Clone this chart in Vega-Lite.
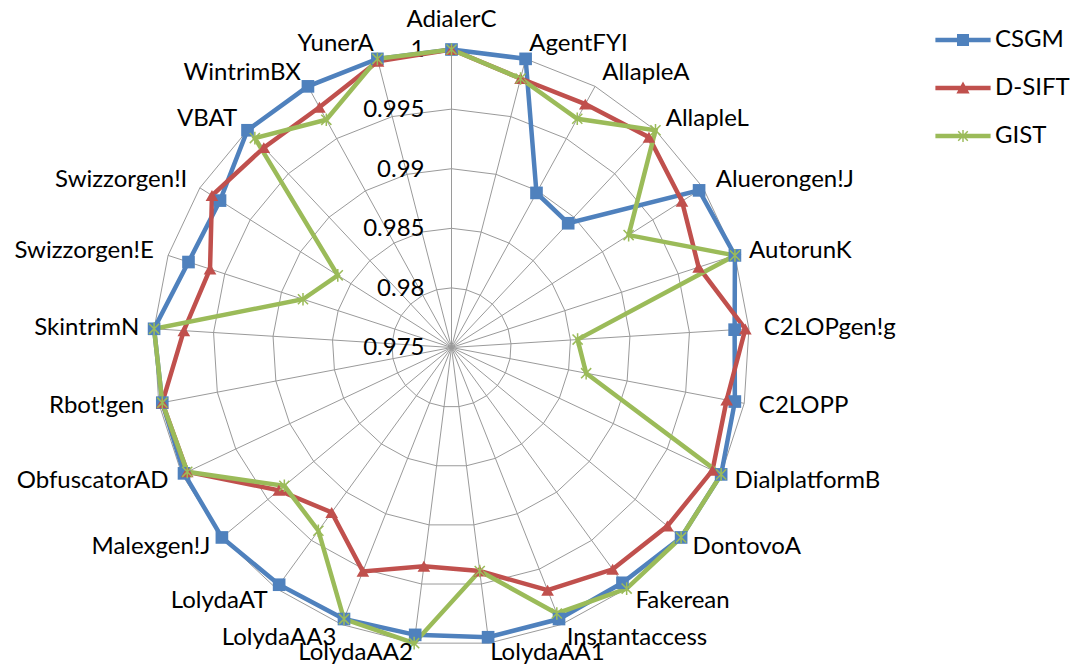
{
  "$schema": "https://vega.github.io/schema/vega-lite/v6.json",
  "width": 1070,
  "height": 668,
  "autosize": "none",
  "padding": 0,
  "background": "#ffffff",
  "config": {
    "view": {"stroke": null},
    "font": "Lato",
    "legend": {
      "orient": "none", "legendX": 951, "legendY": 28, "title": null, "padding": 0,
      "labelFont": "Lato", "labelFontSize": 24, "labelColor": "#000000",
      "symbolSize": 144, "symbolStrokeWidth": 0, "symbolOpacity": 1,
      "labelOffset": 20, "rowPadding": 24
    }
  },
  "datasets": {
    "d": [
      {"c": "AdialerC", "s": "CSGM", "v": 1.0}, {"c": "AdialerC", "s": "D-SIFT", "v": 1.0}, {"c": "AdialerC", "s": "GIST", "v": 1.0},
      {"c": "AgentFYI", "s": "CSGM", "v": 1.0}, {"c": "AgentFYI", "s": "D-SIFT", "v": 0.9983}, {"c": "AgentFYI", "s": "GIST", "v": 0.9983},
      {"c": "AllapleA", "s": "CSGM", "v": 0.9898}, {"c": "AllapleA", "s": "D-SIFT", "v": 0.9983}, {"c": "AllapleA", "s": "GIST", "v": 0.9969},
      {"c": "AllapleL", "s": "CSGM", "v": 0.9893}, {"c": "AllapleL", "s": "D-SIFT", "v": 0.9992}, {"c": "AllapleL", "s": "GIST", "v": 1.0},
      {"c": "Aluerongen!J", "s": "CSGM", "v": 0.9996}, {"c": "Aluerongen!J", "s": "D-SIFT", "v": 0.9979}, {"c": "Aluerongen!J", "s": "GIST", "v": 0.9926},
      {"c": "AutorunK", "s": "CSGM", "v": 1.0}, {"c": "AutorunK", "s": "D-SIFT", "v": 0.9968}, {"c": "AutorunK", "s": "GIST", "v": 1.0},
      {"c": "C2LOPgen!g", "s": "CSGM", "v": 0.9988}, {"c": "C2LOPgen!g", "s": "D-SIFT", "v": 0.9997}, {"c": "C2LOPgen!g", "s": "GIST", "v": 0.9856},
      {"c": "C2LOPP", "s": "CSGM", "v": 0.9992}, {"c": "C2LOPP", "s": "D-SIFT", "v": 0.9985}, {"c": "C2LOPP", "s": "GIST", "v": 0.9865},
      {"c": "DialplatformB", "s": "CSGM", "v": 1.0}, {"c": "DialplatformB", "s": "D-SIFT", "v": 0.9992}, {"c": "DialplatformB", "s": "GIST", "v": 1.0},
      {"c": "DontovoA", "s": "CSGM", "v": 1.0}, {"c": "DontovoA", "s": "D-SIFT", "v": 0.9985}, {"c": "DontovoA", "s": "GIST", "v": 1.0},
      {"c": "Fakerean", "s": "CSGM", "v": 0.9994}, {"c": "Fakerean", "s": "D-SIFT", "v": 0.998}, {"c": "Fakerean", "s": "GIST", "v": 1.0},
      {"c": "Instantaccess", "s": "CSGM", "v": 0.9995}, {"c": "Instantaccess", "s": "D-SIFT", "v": 0.9969}, {"c": "Instantaccess", "s": "GIST", "v": 0.999},
      {"c": "LolydaAA1", "s": "CSGM", "v": 0.9995}, {"c": "LolydaAA1", "s": "D-SIFT", "v": 0.9939}, {"c": "LolydaAA1", "s": "GIST", "v": 0.9939},
      {"c": "LolydaAA2", "s": "CSGM", "v": 0.9993}, {"c": "LolydaAA2", "s": "D-SIFT", "v": 0.9935}, {"c": "LolydaAA2", "s": "GIST", "v": 1.0},
      {"c": "LolydaAA3", "s": "CSGM", "v": 0.9995}, {"c": "LolydaAA3", "s": "D-SIFT", "v": 0.9952}, {"c": "LolydaAA3", "s": "GIST", "v": 0.9995},
      {"c": "LolydaAT", "s": "CSGM", "v": 0.9996}, {"c": "LolydaAT", "s": "D-SIFT", "v": 0.9921}, {"c": "LolydaAT", "s": "GIST", "v": 0.994},
      {"c": "Malexgen!J", "s": "CSGM", "v": 1.0}, {"c": "Malexgen!J", "s": "D-SIFT", "v": 0.9938}, {"c": "Malexgen!J", "s": "GIST", "v": 0.9932},
      {"c": "ObfuscatorAD", "s": "CSGM", "v": 0.9998}, {"c": "ObfuscatorAD", "s": "D-SIFT", "v": 0.9995}, {"c": "ObfuscatorAD", "s": "GIST", "v": 0.9995},
      {"c": "Rbot!gen", "s": "CSGM", "v": 0.9997}, {"c": "Rbot!gen", "s": "D-SIFT", "v": 0.9997}, {"c": "Rbot!gen", "s": "GIST", "v": 0.9997},
      {"c": "SkintrimN", "s": "CSGM", "v": 1.0}, {"c": "SkintrimN", "s": "D-SIFT", "v": 0.9975}, {"c": "SkintrimN", "s": "GIST", "v": 1.0},
      {"c": "Swizzorgen!E", "s": "CSGM", "v": 0.9982}, {"c": "Swizzorgen!E", "s": "D-SIFT", "v": 0.9963}, {"c": "Swizzorgen!E", "s": "GIST", "v": 0.9881},
      {"c": "Swizzorgen!I", "s": "CSGM", "v": 0.998}, {"c": "Swizzorgen!I", "s": "D-SIFT", "v": 0.9988}, {"c": "Swizzorgen!I", "s": "GIST", "v": 0.9863},
      {"c": "VBAT", "s": "CSGM", "v": 1.0}, {"c": "VBAT", "s": "D-SIFT", "v": 0.998}, {"c": "VBAT", "s": "GIST", "v": 0.9991},
      {"c": "WintrimBX", "s": "CSGM", "v": 1.0}, {"c": "WintrimBX", "s": "D-SIFT", "v": 0.998}, {"c": "WintrimBX", "s": "GIST", "v": 0.9968},
      {"c": "YunerA", "s": "CSGM", "v": 1.0}, {"c": "YunerA", "s": "D-SIFT", "v": 0.9998}, {"c": "YunerA", "s": "GIST", "v": 1.0}
    ]
  },
  "data": {"name": "d"},
  "transform": [
    {"calculate": "indexof(['AdialerC','AgentFYI','AllapleA','AllapleL','Aluerongen!J','AutorunK','C2LOPgen!g','C2LOPP','DialplatformB','DontovoA','Fakerean','Instantaccess','LolydaAA1','LolydaAA2','LolydaAA3','LolydaAT','Malexgen!J','ObfuscatorAD','Rbot!gen','SkintrimN','Swizzorgen!E','Swizzorgen!I','VBAT','WintrimBX','YunerA'], datum.c)", "as": "i"},
    {"calculate": "datum.i * 2 * PI / 25", "as": "a"},
    {"calculate": "(datum.v - 0.975) / 0.025", "as": "r"},
    {"calculate": "datum.r * sin(datum.a)", "as": "x"},
    {"calculate": "datum.r * cos(datum.a)", "as": "y"}
  ],
  "layer": [
    {
      "transform": [
        {"filter": "datum.s === 'CSGM'"},
        {"calculate": "[0.2, 0.4, 0.6, 0.8, 1]", "as": "lv"},
        {"flatten": ["lv"]},
        {"calculate": "datum.lv * sin(datum.a)", "as": "gx"},
        {"calculate": "datum.lv * cos(datum.a)", "as": "gy"}
      ],
      "mark": {"type": "line", "interpolate": "linear-closed", "color": "#9a9a9a", "strokeWidth": 1},
      "encoding": {
        "x": {"field": "gx", "type": "quantitative", "scale": {"domain": [-1.5151, 2.0755], "nice": false, "zero": false}, "axis": null},
        "y": {"field": "gy", "type": "quantitative", "scale": {"domain": [-1.0755, 1.1661], "nice": false, "zero": false}, "axis": null},
        "detail": {"field": "lv", "type": "quantitative"},
        "order": {"field": "i", "type": "quantitative"}
      }
    },
    {
      "transform": [
        {"filter": "datum.s === 'CSGM'"},
        {"calculate": "sin(datum.a)", "as": "sx"},
        {"calculate": "cos(datum.a)", "as": "sy"},
        {"calculate": "0", "as": "z"}
      ],
      "mark": {"type": "rule", "color": "#9a9a9a", "strokeWidth": 1},
      "encoding": {
        "x": {"field": "z", "type": "quantitative"},
        "y": {"field": "z", "type": "quantitative"},
        "x2": {"field": "sx"},
        "y2": {"field": "sy"}
      }
    },
    {
      "data": {"values": [
        {"t": "0.975", "v": 0.975}, {"t": "0.98", "v": 0.98}, {"t": "0.985", "v": 0.985},
        {"t": "0.99", "v": 0.99}, {"t": "0.995", "v": 0.995}, {"t": "1", "v": 1.0}
      ]},
      "transform": [
        {"calculate": "(datum.v - 0.975) / 0.025", "as": "ty"},
        {"calculate": "0", "as": "tx"}
      ],
      "mark": {"type": "text", "align": "right", "baseline": "middle", "dx": -27, "dy": 1, "fontSize": 24, "font": "Lato", "color": "#000000"},
      "encoding": {
        "x": {"field": "tx", "type": "quantitative"},
        "y": {"field": "ty", "type": "quantitative"},
        "text": {"field": "t"}
      }
    },
    {
      "mark": {"type": "line", "interpolate": "linear-closed", "strokeWidth": 4.5},
      "encoding": {
        "x": {"field": "x", "type": "quantitative"},
        "y": {"field": "y", "type": "quantitative"},
        "color": {"field": "s", "type": "nominal", "scale": {"domain": ["CSGM", "D-SIFT", "GIST"], "range": ["#4F81BD", "#C0504D", "#9BBB59"]}},
        "order": {"field": "i", "type": "quantitative"}
      }
    },
    {
      "mark": {"type": "point", "filled": true, "opacity": 1, "size": 160},
      "encoding": {
        "x": {"field": "x", "type": "quantitative"},
        "y": {"field": "y", "type": "quantitative"},
        "color": {
          "field": "s", "type": "nominal",
          "scale": {"domain": ["CSGM", "D-SIFT", "GIST"], "range": ["#4F81BD", "#C0504D", "#9BBB59"]},
          "legend": {
            "encode": {"symbols": {"update": {
              "shape": {"signal": "datum.value === 'CSGM' ? 'M-4.6,-0.38H4.6V0.38H-4.6Z M-1,-1H1V1H-1Z' : datum.value === 'D-SIFT' ? 'M-4.6,-0.38H4.6V0.38H-4.6Z M0,-1.1L1.1,0.9L-1.1,0.9Z' : 'M-4.6,-0.38H4.6V0.38H-4.6Z M-0.12,-1H0.12V1H-0.12Z M-0.885,-0.715L-0.715,-0.885L0.885,0.715L0.715,0.885Z M-0.885,0.715L0.715,-0.885L0.885,-0.715L-0.715,0.885Z'"},
              "fill": {"signal": "datum.value === 'CSGM' ? '#4F81BD' : datum.value === 'D-SIFT' ? '#C0504D' : '#9BBB59'"},
              "stroke": {"value": "transparent"},
              "strokeWidth": {"value": 0},
              "opacity": {"value": 1}
            }}}
          }
        },
        "shape": {
          "field": "s", "type": "nominal",
          "scale": {"domain": ["GIST", "D-SIFT", "CSGM"], "range": ["M-0.12,-1H0.12V1H-0.12Z M-0.885,-0.715L-0.715,-0.885L0.885,0.715L0.715,0.885Z M-0.885,0.715L0.715,-0.885L0.885,-0.715L-0.715,0.885Z", "triangle-up", "square"]},
          "legend": null
        }
      }
    },
    {
      "transform": [
        {"filter": "datum.s === 'CSGM'"},
        {"calculate": "datum.i === 0 ? 1.1 : (datum.i === 12 || datum.i === 13) ? 1.035 : 1.05", "as": "lr"},
        {"calculate": "datum.lr * sin(datum.a)", "as": "lx"},
        {"calculate": "datum.lr * cos(datum.a)", "as": "ly"}
      ],
      "layer": [
        {
          "transform": [{"filter": "datum.i === 0"}],
          "mark": {"type": "text", "align": "center", "baseline": "middle", "fontSize": 24, "font": "Lato", "color": "#000000"},
          "encoding": {"x": {"field": "lx", "type": "quantitative"}, "y": {"field": "ly", "type": "quantitative"}, "text": {"field": "c"}}
        },
        {
          "transform": [{"filter": "datum.i > 0 && datum.i <= 12"}],
          "mark": {"type": "text", "align": "left", "baseline": "middle", "fontSize": 24, "font": "Lato", "color": "#000000"},
          "encoding": {"x": {"field": "lx", "type": "quantitative"}, "y": {"field": "ly", "type": "quantitative"}, "text": {"field": "c"}}
        },
        {
          "transform": [{"filter": "datum.i > 12"}],
          "mark": {"type": "text", "align": "right", "baseline": "middle", "fontSize": 24, "font": "Lato", "color": "#000000"},
          "encoding": {"x": {"field": "lx", "type": "quantitative"}, "y": {"field": "ly", "type": "quantitative"}, "text": {"field": "c"}}
        }
      ]
    }
  ]
}
